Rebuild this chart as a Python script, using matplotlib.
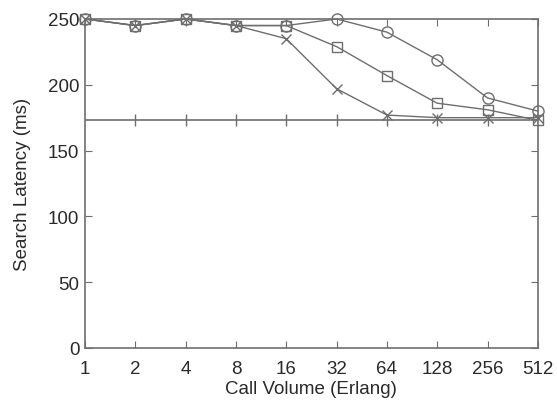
import numpy as np
import matplotlib
matplotlib.use("Agg")
import matplotlib.pyplot as plt

plt.rcParams['font.family'] = ['Liberation Sans', 'DejaVu Sans']

# Call volume (Erlang) and search latency (ms) for the three series
call_volume = [1, 2, 4, 8, 16, 32, 64, 128, 256, 512]
latency_circle = [250, 245, 250, 245, 245, 250, 240, 219, 190, 180]
latency_square = [250, 245, 250, 245, 245, 229, 207, 186, 181, 173]
latency_cross = [250, 245, 250, 245, 235, 197, 177, 175, 175, 175]
baseline = 173.5

tick_labels = ["1", "2", "4", "8", "16", "32", "64", "128", "256", "512"]
y_ticks = [0, 50, 100, 150, 200, 250]

GRIS = "#6e6e6e"
TEXTE = "#2a2a2a"

fig = plt.figure(figsize=(5.57, 4.10), dpi=100, facecolor="white")
ax = fig.add_axes([0.1526, 0.1488, 0.813, 0.8025])

ax.set_xscale("log", base=2)

ax.plot(call_volume, latency_circle, color=GRIS, linewidth=1.0, marker="o", clip_on=False,
        markersize=8, markerfacecolor="none", markeredgecolor=GRIS, markeredgewidth=1.0)
ax.plot(call_volume, latency_square, color=GRIS, linewidth=1.0, marker="s", clip_on=False,
        markersize=7.5, markerfacecolor="none", markeredgecolor=GRIS, markeredgewidth=1.0)
ax.plot(call_volume, latency_cross, color=GRIS, linewidth=1.0, marker="x", clip_on=False,
        markersize=7, markeredgecolor=GRIS, markeredgewidth=1.0)

# ligne horizontale avec petites graduations
ax.axhline(baseline, color=GRIS, linewidth=1.2)
ax.plot(call_volume[1:-1], [baseline] * (len(call_volume) - 2), linestyle="none",
        marker="|", markersize=9, markeredgecolor=GRIS, markeredgewidth=1.0)

ax.set_xlim(1, 512)
ax.set_ylim(0, 250)
ax.set_xticks(call_volume)
ax.set_xticklabels(tick_labels)
ax.minorticks_off()
ax.set_yticks(y_ticks)

ax.tick_params(direction="in", top=True, right=True, length=5, width=0.8,
               color=GRIS, labelsize=13.5, labelcolor=TEXTE)
ax.tick_params(axis="x", pad=9)
ax.tick_params(axis="y", pad=4)

for s in ax.spines.values():
    s.set_color(GRIS)
    s.set_linewidth(1.2)

ax.set_xlabel("Call Volume (Erlang)", fontsize=13.5, color=TEXTE, labelpad=2)
ax.set_ylabel("Search Latency (ms)", fontsize=13.5, color=TEXTE, labelpad=12)

fig.savefig("out.png", dpi=100, facecolor="white")
